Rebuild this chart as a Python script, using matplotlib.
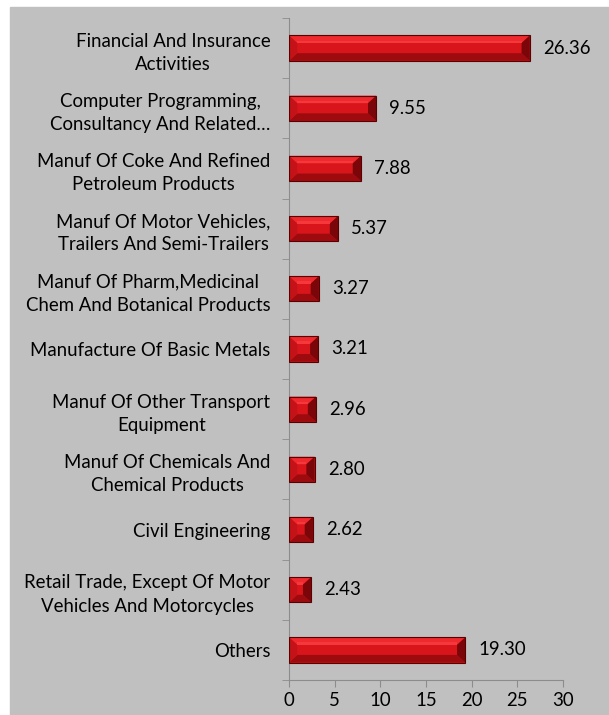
import numpy as np
import matplotlib.pyplot as plt
from matplotlib.patches import Polygon

# Categorias e valores (%)
categorias = [
    "Financial And Insurance\nActivities",
    "Computer Programming,\nConsultancy And Related…",
    "Manuf Of Coke And Refined\nPetroleum Products",
    "Manuf Of Motor Vehicles,\nTrailers And Semi-Trailers",
    "Manuf Of Pharm,Medicinal\nChem And Botanical Products",
    "Manufacture Of Basic Metals",
    "Manuf Of Other Transport\nEquipment",
    "Manuf Of Chemicals And\nChemical Products",
    "Civil Engineering",
    "Retail Trade, Except Of Motor\nVehicles And Motorcycles",
    "Others",
]
valores = [26.36, 9.55, 7.88, 5.37, 3.27, 3.21, 2.96, 2.80, 2.62, 2.43, 19.30]
xticks = [0, 5, 10, 15, 20, 25, 30]

plt.rcParams['font.family'] = ['Lato', 'DejaVu Sans']
fs = 13.4

fig = plt.figure(figsize=(6.09, 7.15), dpi=100)
fundo = plt.Rectangle((10/609, 0), 1, 1 - 7/715, transform=fig.transFigure,
                      color='#c0c0c0', zorder=-5)
fig.add_artist(fundo)
ax = fig.add_axes([289/609, 1 - 680/715, 274/609, 662/715])
ax.set_facecolor('none')

y = np.arange(len(categorias))
h = 0.42
barras = ax.barh(y, valores, height=h, color='#d8151b', edgecolor='none', zorder=2)

# Efeito de bisel nas barras
for b in barras:
    x0, y0 = b.get_x(), b.get_y()
    w, hh = b.get_width(), b.get_height()
    bw = min(0.9, w / 2)
    bh = 0.3 * hh
    top, bot = y0, y0 + hh  # eixo invertido: y0 fica em cima
    faces = [
        ([(x0, top), (x0 + w, top), (x0 + w - bw, top + bh), (x0 + bw, top + bh)], '#ee2a2f'),
        ([(x0, bot), (x0 + w, bot), (x0 + w - bw, bot - bh), (x0 + bw, bot - bh)], '#9e0b0f'),
        ([(x0, top), (x0 + bw, top + bh), (x0 + bw, bot - bh), (x0, bot)], '#c41318'),
        ([(x0 + w, top), (x0 + w - bw, top + bh), (x0 + w - bw, bot - bh), (x0 + w, bot)], '#7a0609'),
    ]
    for pts, cor in faces:
        ax.add_patch(Polygon(pts, closed=True, facecolor=cor, edgecolor='none', zorder=3))
    # faixa de brilho
    ax.add_patch(plt.Rectangle((x0 + bw, top + 0.2 * hh), w - 2 * bw, 0.1 * hh,
                               facecolor='#f4383c', edgecolor='none', zorder=3))
    ax.add_patch(plt.Rectangle((x0, y0), w, hh, facecolor='none',
                               edgecolor='#5a0000', linewidth=0.8, zorder=4))

for yi, v in zip(y, valores):
    ax.annotate(f"{v:.2f}", (v, yi), xytext=(9.5, 0), textcoords='offset points',
                va='center', ha='left', fontsize=fs, color='black')

ax.set_xlim(0, 30)
ax.set_ylim(len(categorias) - 0.5, -0.5)
ax.set_xticks(xticks)
ax.set_yticks(y)
ax.set_yticklabels(categorias, multialignment='center', fontsize=fs, color='black',
                   linespacing=1.45)
ax.set_yticks(np.arange(len(categorias) + 1) - 0.5, minor=True)
ax.tick_params(axis='y', which='major', length=0, pad=13.5)
ax.tick_params(axis='y', which='minor', length=5, color='#8c8c8c')
ax.tick_params(axis='x', length=5, color='#8c8c8c', labelsize=fs, labelcolor='black')
for s in ['top', 'right']:
    ax.spines[s].set_visible(False)
for s in ['left', 'bottom']:
    ax.spines[s].set_color('#8c8c8c')

fig.savefig('out.png', dpi=100, facecolor='white')
